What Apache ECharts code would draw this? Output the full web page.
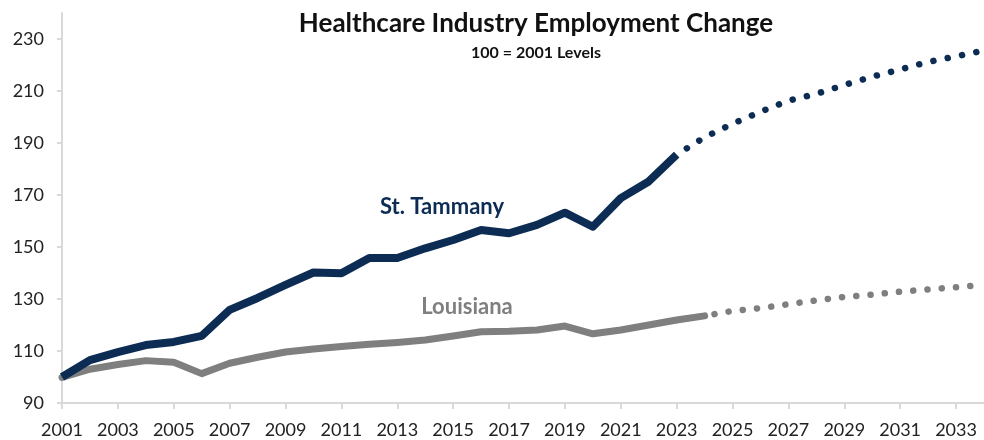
<!DOCTYPE html>
<html>
<head>
<meta charset="utf-8">
<script src="https://cdn.jsdelivr.net/npm/echarts@6/dist/echarts.min.js"></script>
<style>
html,body{margin:0;padding:0;background:#fff;}
#chart{width:984px;height:440px;}
</style>
</head>
<body>
<div id="chart"></div>
<script>
const years = [];
for (let y = 2001; y <= 2034; y++) years.push(String(y));

const stTammanyActual = [100, 106.5, 109.6, 112.3, 113.5, 115.8, 125.8, 130.4, 135.4, 140.2, 139.9, 145.8, 145.8, 149.5, 152.7, 156.5, 155.3, 158.5, 163.2, 157.8, 168.8, 175.2, 185.5];
const stTammanyProjection = [185.5, 192.2, 197.4, 202.0, 206.3, 208.9, 212.3, 215.5, 218.3, 221.2, 223.3, 225.6];
const louisianaActual = [99.8, 103, 104.8, 106.3, 105.7, 101.3, 105.3, 107.6, 109.6, 110.8, 111.7, 112.6, 113.3, 114.2, 115.8, 117.4, 117.6, 118.1, 119.6, 116.6, 118.1, 120, 121.9, 123.5];
const louisianaProjection = [123.5, 125.4, 126.5, 128.0, 129.5, 130.8, 131.7, 132.8, 133.7, 134.5, 135.5];

const titleText = 'Healthcare Industry Employment Change';
const subtitleText = '100 = 2001 Levels';
const stTammanyLabel = 'St. Tammany';
const louisianaLabel = 'Louisiana';

const navy = '#0c2c54';
const gray = '#7f7f7f';
const FONT = 'Lato, "Open Sans", sans-serif';

function pad(arr, before, total) {
  const out = [];
  for (let i = 0; i < before; i++) out.push(null);
  for (const v of arr) out.push(v);
  while (out.length < total) out.push(null);
  return out;
}
const n = years.length;

const chart = echarts.init(document.getElementById('chart'), null, {renderer: 'canvas'});
chart.setOption({
  animation: false,
  backgroundColor: '#ffffff',
  title: {
    text: titleText,
    subtext: subtitleText,
    left: 531,
    textAlign: 'center',
    top: 6,
    itemGap: 8,
    textStyle: {fontFamily: FONT, fontWeight: 'bold', fontSize: 26, color: '#111'},
    subtextStyle: {fontFamily: FONT, fontWeight: 'bold', fontSize: 16, color: '#111'}
  },
  grid: {left: 62, top: 13, bottom: 37, width: 928, containLabel: false},
  xAxis: {
    type: 'category',
    data: years,
    boundaryGap: false,
    axisLine: {lineStyle: {color: '#d9d9d9', width: 2}},
    axisTick: {show: true, interval: 1, length: 6, lineStyle: {color: '#d9d9d9', width: 2}},
    axisLabel: {interval: 1, fontFamily: FONT, fontSize: 18, color: '#222', margin: 18},
    splitLine: {show: false}
  },
  yAxis: {
    type: 'value',
    min: 90,
    max: 240,
    interval: 20,
    axisLine: {show: true, lineStyle: {color: '#d9d9d9', width: 2}},
    axisTick: {show: true, length: 5, lineStyle: {color: '#d9d9d9', width: 2}},
    axisLabel: {showMaxLabel: false, fontFamily: FONT, fontSize: 18, color: '#222', margin: 18},
    splitLine: {show: false}
  },
  series: [
    {
      name: 'Louisiana', type: 'line', data: pad(louisianaActual, 0, n),
      showSymbol: false, symbol: 'none', z: 2,
      lineStyle: {color: gray, width: 7, join: 'round', cap: 'round'}
    },
    {
      name: 'Louisiana projection', type: 'line', data: pad(louisianaProjection, louisianaActual.length - 1, n),
      showSymbol: false, symbol: 'none', z: 2,
      lineStyle: {color: gray, width: 6.5, type: [0.1, 14.2], cap: 'round', dashOffset: -10}
    },
    {
      name: 'St. Tammany', type: 'line', data: pad(stTammanyActual, 0, n),
      showSymbol: false, symbol: 'none', z: 3,
      lineStyle: {color: navy, width: 8, join: 'round', cap: 'butt'}
    },
    {
      name: 'St. Tammany projection', type: 'line', data: pad(stTammanyProjection, stTammanyActual.length - 1, n),
      showSymbol: false, symbol: 'none', z: 3,
      lineStyle: {color: navy, width: 6.5, type: [0.1, 14.5], cap: 'round', dashOffset: -12}
    }
  ],
  graphic: [
    {type: 'text', x: 442, y: 207, style: {text: stTammanyLabel, fill: navy, font: 'bold 22px ' + FONT, textAlign: 'center', textVerticalAlign: 'middle'}},
    {type: 'text', x: 467, y: 307, style: {text: louisianaLabel, fill: gray, font: 'bold 22px ' + FONT, textAlign: 'center', textVerticalAlign: 'middle'}}
  ]
});
</script>
</body>
</html>
